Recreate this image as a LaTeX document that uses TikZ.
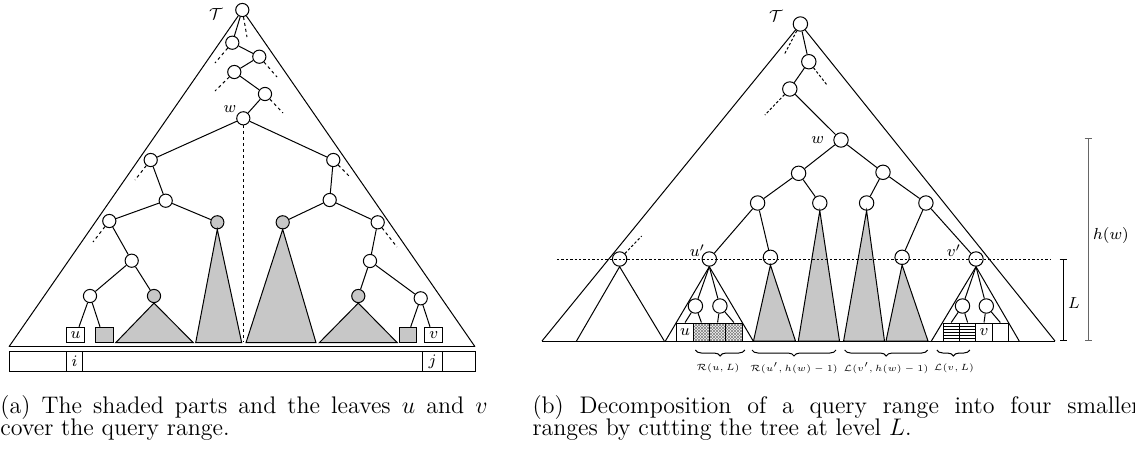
\documentclass[tikz,border=0pt]{standalone}
\usetikzlibrary{calc,patterns,decorations.pathreplacing,arrows.meta}
\pgfdeclarepatternformonly{finecross}{\pgfqpoint{-0.5pt}{-0.5pt}}{\pgfqpoint{2pt}{2pt}}{\pgfqpoint{1.5pt}{1.5pt}}{%
  \pgfsetlinewidth{0.3pt}%
  \pgfpathmoveto{\pgfqpoint{0pt}{0pt}}\pgfpathlineto{\pgfqpoint{1.5pt}{1.5pt}}%
  \pgfpathmoveto{\pgfqpoint{0pt}{1.5pt}}\pgfpathlineto{\pgfqpoint{1.5pt}{0pt}}%
  \pgfusepath{stroke}}
\pgfdeclarepatternformonly{finehl}{\pgfqpoint{-0.5pt}{-0.5pt}}{\pgfqpoint{2pt}{2pt}}{\pgfqpoint{1.5pt}{1.5pt}}{%
  \pgfsetlinewidth{0.45pt}%
  \pgfpathmoveto{\pgfqpoint{-0.1pt}{0.75pt}}\pgfpathlineto{\pgfqpoint{1.6pt}{0.75pt}}%
  \pgfusepath{stroke}}
\newcommand{\blab}[1]{\scalebox{0.9}{#1}}
\begin{document}
\begin{tikzpicture}[x=0.5pt,y=-0.5pt,line width=0.5pt,
  tnl/.style={circle,draw,inner sep=0pt,minimum size=6.6pt},
  tnr/.style={circle,draw,inner sep=0pt,minimum size=7.2pt},
  shd/.style={fill=black!22},
  stub/.style={dash pattern=on 1.5pt off 1.5pt},
  rstub/.style={dash pattern=on 1.3pt off 1pt},
  sql/.style={draw,rectangle,inner sep=0pt,minimum width=8.8pt,minimum height=7.7pt,font=\fontsize{8}{9}\selectfont},
  sqr/.style={draw,rectangle,inner sep=0pt,minimum width=8.15pt,minimum height=9pt,font=\fontsize{8}{9}\selectfont},
  cell/.style={draw,rectangle,inner sep=0pt,minimum height=10pt,font=\fontsize{8}{9}\selectfont},
  lbl/.style={inner sep=0pt,font=\fontsize{8}{9}\selectfont},
  blbl/.style={inner sep=0pt,font=\fontsize{5}{6}\selectfont},
  brc/.style={decorate,decoration={brace,mirror,amplitude=3pt}},
  captxt/.style={inner sep=0pt,anchor=base west,font=\fontsize{12}{11}\selectfont}]
\useasboundingbox (0,0) rectangle (1135,451);

% ================= left tree =================
\node[tnl] (lroot) at (242.3,10) {};
\node[tnl] (la1) at (232.3,42.7) {};
\node[tnl] (la2) at (259.3,56.7) {};
\node[tnl] (la3) at (234.3,72) {};
\node[tnl] (la4) at (265,94) {};
\node[tnl] (lw) at (243.3,118.3) {};
\node[tnl] (ll1) at (150.7,160) {};
\node[tnl] (lr1) at (333.3,160) {};
\node[tnl] (ll2) at (165.7,200.7) {};
\node[tnl] (lr2) at (329.7,200) {};
\node[tnl] (ll3) at (109.3,221) {};
\node[tnl,shd] (lls1) at (217.3,222.3) {};
\node[tnl,shd] (lrs1) at (282.7,222.3) {};
\node[tnl] (lr3) at (377.7,222.3) {};
\node[tnl] (ll4) at (131.7,260.7) {};
\node[tnl] (lr4) at (370,261) {};
\node[tnl] (ll5) at (90,296) {};
\node[tnl,shd] (lls2) at (154,296) {};
\node[tnl,shd] (lrs2) at (358.3,296) {};
\node[tnl] (lr5) at (420.7,298.3) {};

\node[lbl] (lT) at (216,14) {$\mathcal{T}$};
\node[lbl] (lwl) at (230,109.5) {$w$};

\draw (lroot) -- (la1) -- (la2) -- (la3) -- (la4) -- (lw);
\draw (lw) -- (ll1) -- (ll2) -- (ll3) -- (ll4) -- (ll5);
\draw (lw) -- (lr1) -- (lr2) -- (lr3) -- (lr4) -- (lr5);
\draw (ll2) -- (lls1);
\draw (ll4) -- (lls2);
\draw (lr2) -- (lrs1);
\draw (lr4) -- (lrs2);

\coordinate (ls0) at (247,37);
\coordinate (ls1) at (215,63);
\coordinate (ls2) at (277,77);
\coordinate (ls3) at (215,91);
\coordinate (ls4) at (283,113);
\coordinate (ls5) at (135,180);
\coordinate (ls6) at (350,177);
\coordinate (ls7) at (93,242);
\coordinate (ls8) at (397,247);
\coordinate (lsw) at (243.3,342);
\draw[stub] (lroot) -- (ls0);
\draw[stub] (la1) -- (ls1);
\draw[stub] (la2) -- (ls2);
\draw[stub] (la3) -- (ls3);
\draw[stub] (la4) -- (ls4);
\draw[stub] (ll1) -- (ls5);
\draw[stub] (lr1) -- (ls6);
\draw[stub] (ll3) -- (ls7);
\draw[stub] (lr3) -- (ls8);
\draw[stub] (lw) -- (lsw);

\filldraw[shd] (lls1.south) -- (195.7,342.7) -- (241.7,342.7) -- cycle;
\filldraw[shd] (lrs1.south) -- (246,342.7) -- (316,342.7) -- cycle;
\filldraw[shd] (lls2.south) -- (115.7,342.7) -- (193.3,342.7) -- cycle;
\filldraw[shd] (lrs2.south) -- (319.3,342.7) -- (397.3,342.7) -- cycle;

\node[sql] (lu) at (75.5,335) {$u$};
\node[sql,shd] (lq1) at (104.5,335) {};
\node[sql,shd] (lq2) at (408,335) {};
\node[sql] (lv) at (433.7,335) {$v$};
\draw (ll5) -- ($(lu.north)+(3.5,0)$);
\draw (ll5) -- ($(lq1.north)+(-4.5,0)$);
\draw (lr5) -- ($(lq2.north)+(2.7,0)$);
\draw (lr5) -- ($(lv.north)+(-3.7,0)$);

\coordinate (lBL) at (9,346.7);
\coordinate (lBR) at (475,346.7);
\draw (lBL) -- (lroot) -- (lBR);
\draw (lBL) -- (lBR);

\coordinate (barA) at (9,351.7);
\coordinate (barB) at (475,371.7);
\draw (barA) rectangle (barB);
\node[cell,minimum width=7.8pt] (ci) at (74.5,361.7) {$i$};
\node[cell,minimum width=9.8pt] (cj) at (432.5,361.7) {$j$};

% ================= right tree =================
\node[tnr] (rroot) at (800.4,24) {};
\node[tnr] (rb1) at (808.8,61.7) {};
\node[tnr] (rb2) at (789.8,89) {};
\node[tnr] (rw) at (841,140) {};
\node[tnr] (rc1) at (798.6,173.3) {};
\node[tnr] (rc2) at (883,172.3) {};
\node[tnr] (rd1) at (757.6,203) {};
\node[tnr] (rd2) at (819.8,203) {};
\node[tnr] (rd3) at (866.6,203) {};
\node[tnr] (rd4) at (925.9,203) {};
\node[tnr] (rx) at (619.6,259) {};
\node[tnr] (rup) at (709.3,259) {};
\node[tnr] (re2) at (770.4,257.3) {};
\node[tnr] (re3) at (902.1,257.3) {};
\node[tnr] (rvp) at (976,259) {};
\node[tnr] (rf1) at (695.4,306) {};
\node[tnr] (rf2) at (719.9,306) {};
\node[tnr] (rg1) at (962.5,306) {};
\node[tnr] (rg2) at (986.3,306) {};

\node[lbl] (rT) at (776,16) {$\mathcal{T}$};
\node[lbl] (rwl) at (817.6,140) {$w$};
\node[lbl] (rupl) at (697.5,250.5) {$u'$};
\node[lbl] (rvpl) at (954,250.5) {$v'$};

\draw (rroot) -- (rb1) -- (rb2) -- (rw);
\draw (rw) -- (rc1) -- (rd1) -- (rup);
\draw (rc1) -- (rd2);
\draw (rd1) -- (re2);
\draw (rw) -- (rc2) -- (rd4) -- (rvp);
\draw (rc2) -- (rd3);
\draw (rd4) -- (re3);
\draw (rup.south) -- (rf1);
\draw (rup.south) -- (rf2);
\draw (rvp.south) -- (rg1);
\draw (rvp.south) -- (rg2);

\coordinate (rs0) at (784,55);
\coordinate (rs1) at (827,85);
\coordinate (rs2) at (764.9,115);
\coordinate (rs3) at (641.7,236);
\draw[rstub] (rroot) -- (rs0);
\draw[rstub] (rb1) -- (rs1);
\draw[rstub] (rb2) -- (rs2);
\draw[rstub] (rx) -- (rs3);

\draw (576.5,341) -- (rx.south) -- (664.3,341);
\draw (665.4,341) -- (rup.south) -- (753.2,341);
\draw (931.4,341) -- (rvp.south) -- (1019.2,341);
\filldraw[shd] (re2.south) -- (753.5,341) -- (795.5,341) -- cycle;
\filldraw[shd] (rd2.south) -- (798.3,341) -- (839.5,341) -- cycle;
\filldraw[shd] (rd3.south) -- (843.6,341) -- (884.5,341) -- cycle;
\filldraw[shd] (re3.south) -- (886,341) -- (928,341) -- cycle;

\node[sqr] (ru1) at (685.1,332) {$u$};
\node[sqr,pattern=finecross,pattern color=black!50] (ru2) at (701.4,332) {};
\node[sqr,pattern=finecross,pattern color=black!50] (ru3) at (717.6,332) {};
\node[sqr,pattern=finecross,pattern color=black!50] (ru4) at (733.9,332) {};
\node[sqr,pattern=finehl] (rv1) at (951.2,332) {};
\node[sqr,pattern=finehl] (rv2) at (967.6,332) {};
\node[sqr] (rv3) at (984,332) {$v$};
\node[sqr] (rv4) at (1000.3,332) {};
\draw (rf1) -- (ru1.north);
\draw (rf1) -- (ru2.north);
\draw (rf2) -- (ru3.north);
\draw (rf2) -- (ru4.north);
\draw (rg1) -- (rv1.north);
\draw (rg1) -- (rv2.north);
\draw (rg2) -- (rv3.north);
\draw (rg2) -- (rv4.north);

\coordinate (rBL) at (542,341);
\coordinate (rBR) at (1055,341);
\draw (rBL) -- (rroot) -- (rBR);
\draw (rBL) -- (rBR);

\coordinate (dl) at (557,259);
\coordinate (dr) at (1050,259);
\draw[dash pattern=on 1.2pt off 1pt] (dl) -- (dr);

\coordinate (Lt) at (1063,259);
\coordinate (Lb) at (1063,341);
\coordinate (Ht) at (1088,138.3);
\coordinate (Hb) at (1088,341);
\draw[{Bar[width=3.5pt]}-{Bar[width=3.5pt]}] (Lt) -- (Lb);
\draw[black!60,{Bar[width=3.5pt]}-{Bar[width=3.5pt]}] (Ht) -- (Hb);
\node[lbl] (Ll) at (1074,303) {$L$};
\node[lbl] (Hl) at (1111,235) {$h(w)$};

\coordinate (b1a) at (695.4,350);
\coordinate (b1b) at (744.8,350);
\coordinate (b2a) at (752,350);
\coordinate (b2b) at (836,350);
\coordinate (b3a) at (844.7,350);
\coordinate (b3b) at (927.7,350);
\coordinate (b4a) at (936.9,350);
\coordinate (b4b) at (969.8,350);
\draw[brc] (b1a) -- (b1b);
\draw[brc] (b2a) -- (b2b);
\draw[brc] (b3a) -- (b3b);
\draw[brc] (b4a) -- (b4b);
\node[blbl] (bl1) at (718,368) {\blab{$\mathcal{R}(u,L)$}};
\node[blbl] (bl2) at (794,368) {\blab{$\mathcal{R}(u',h(w)-1)$}};
\node[blbl] (bl3) at (886,368) {\blab{$\mathcal{L}(v',h(w)-1)$}};
\node[blbl] (bl4) at (954,368) {\blab{$\mathcal{L}(v,L)$}};

% ================= captions =================
\node[captxt] (ca1) at (0,413.5) {\makebox[243.5pt][s]{(a) The shaded parts and the leaves $u$ and $v$}};
\node[captxt] (ca2) at (0,435) {cover the query range.};
\node[captxt] (cb1) at (532,413.5) {\makebox[304pt][s]{(b) Decomposition of a query range into four smaller}};
\node[captxt] (cb2) at (532,435) {ranges by cutting the tree at level $L$.};
\end{tikzpicture}
\end{document}
